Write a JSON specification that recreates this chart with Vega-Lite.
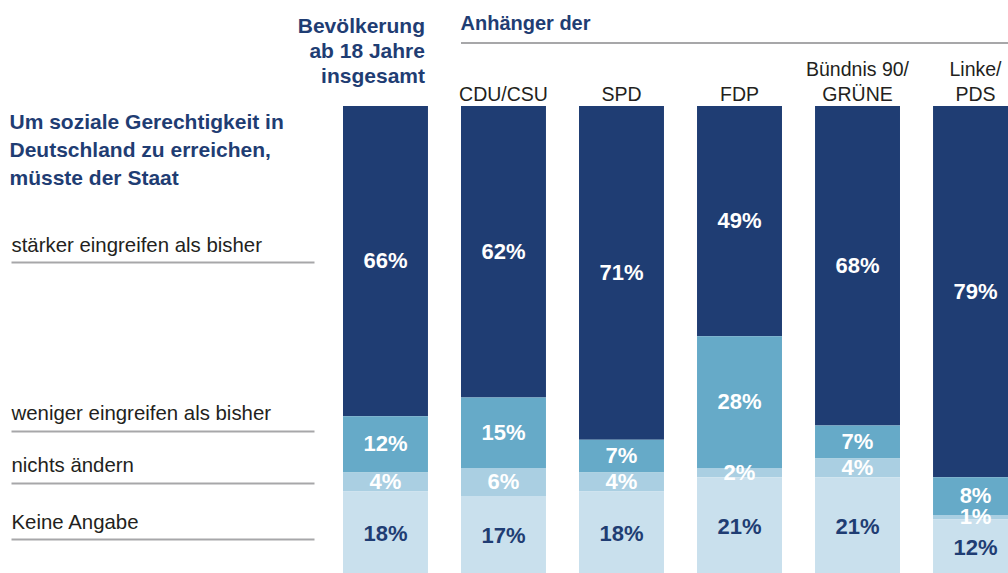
{
  "$schema": "https://vega.github.io/schema/vega-lite/v6.json",
  "autosize": {"type": "none"},
  "padding": {"left": 343, "top": 106, "right": 0, "bottom": 0},
  "width": 665,
  "height": 467,
  "background": "white",
  "config": {"view": {"stroke": null}},
  "data": {
    "values": [
      {"group": "Bevölkerung ab 18 Jahre insgesamt", "answer": "stärker eingreifen als bisher", "value": 0.66},
      {"group": "Bevölkerung ab 18 Jahre insgesamt", "answer": "weniger eingreifen als bisher", "value": 0.12},
      {"group": "Bevölkerung ab 18 Jahre insgesamt", "answer": "nichts ändern", "value": 0.04},
      {"group": "Bevölkerung ab 18 Jahre insgesamt", "answer": "Keine Angabe", "value": 0.18},
      {"group": "CDU/CSU", "answer": "stärker eingreifen als bisher", "value": 0.62},
      {"group": "CDU/CSU", "answer": "weniger eingreifen als bisher", "value": 0.15},
      {"group": "CDU/CSU", "answer": "nichts ändern", "value": 0.06},
      {"group": "CDU/CSU", "answer": "Keine Angabe", "value": 0.17},
      {"group": "SPD", "answer": "stärker eingreifen als bisher", "value": 0.71},
      {"group": "SPD", "answer": "weniger eingreifen als bisher", "value": 0.07},
      {"group": "SPD", "answer": "nichts ändern", "value": 0.04},
      {"group": "SPD", "answer": "Keine Angabe", "value": 0.18},
      {"group": "FDP", "answer": "stärker eingreifen als bisher", "value": 0.49},
      {"group": "FDP", "answer": "weniger eingreifen als bisher", "value": 0.28},
      {"group": "FDP", "answer": "nichts ändern", "value": 0.02},
      {"group": "FDP", "answer": "Keine Angabe", "value": 0.21},
      {"group": "Bündnis 90/ GRÜNE", "answer": "stärker eingreifen als bisher", "value": 0.68},
      {"group": "Bündnis 90/ GRÜNE", "answer": "weniger eingreifen als bisher", "value": 0.07},
      {"group": "Bündnis 90/ GRÜNE", "answer": "nichts ändern", "value": 0.04},
      {"group": "Bündnis 90/ GRÜNE", "answer": "Keine Angabe", "value": 0.21},
      {"group": "Linke/ PDS", "answer": "stärker eingreifen als bisher", "value": 0.79},
      {"group": "Linke/ PDS", "answer": "weniger eingreifen als bisher", "value": 0.08},
      {"group": "Linke/ PDS", "answer": "nichts ändern", "value": 0.01},
      {"group": "Linke/ PDS", "answer": "Keine Angabe", "value": 0.12}
    ]
  },
  "transform": [
    {"calculate": "indexof(['Keine Angabe', 'nichts ändern', 'weniger eingreifen als bisher', 'stärker eingreifen als bisher'], datum.answer)", "as": "stackOrder"}
  ],
  "resolve": {"scale": {"color": "independent"}},
  "layer": [
    {
      "mark": {"type": "bar"},
      "encoding": {
        "x": {
          "field": "group", "type": "nominal", "sort": null,
          "scale": {"type": "band", "range": [0, 675], "paddingInner": 0.28, "paddingOuter": 0},
          "axis": {
            "orient": "top", "domain": false, "ticks": false, "labelAngle": 0,
            "labelOverlap": false, "labelBound": false, "labelLimit": 400,
            "labelExpr": "datum.value == 'Bevölkerung ab 18 Jahre insgesamt' ? ['Bevölkerung', 'ab 18 Jahre', 'insgesamt'] : (indexof(datum.value, '/ ') > 0 ? [split(datum.value, '/ ')[0] + '/', split(datum.value, '/ ')[1]] : ['', datum.value])",
            "labelBaseline": "alphabetic",
            "labelLineHeight": 25,
            "labelAlign": {"condition": {"test": "datum.value == 'Bevölkerung ab 18 Jahre insgesamt'", "value": "right"}, "value": "center"},
            "labelOffset": {"condition": {"test": "datum.value == 'Bevölkerung ab 18 Jahre insgesamt'", "value": 39.5}, "value": 0},
            "labelPadding": {"condition": {"test": "datum.value == 'Bevölkerung ab 18 Jahre insgesamt'", "value": 74}, "value": 31},
            "labelFont": "Liberation Sans",
            "labelFontWeight": {"condition": {"test": "datum.value == 'Bevölkerung ab 18 Jahre insgesamt'", "value": "bold"}, "value": "normal"},
            "labelFontSize": {"condition": {"test": "datum.value == 'Bevölkerung ab 18 Jahre insgesamt'", "value": 21}, "value": 19.5},
            "labelColor": {"condition": {"test": "datum.value == 'Bevölkerung ab 18 Jahre insgesamt'", "value": "#1f3d73"}, "value": "#231f20"},
            "title": "Anhänger der",
            "titleX": 117, "titleY": -77, "titleAlign": "left", "titleAnchor": "start", "titleBaseline": "alphabetic",
            "titleFont": "Liberation Sans", "titleFontSize": 20, "titleFontWeight": "bold", "titleColor": "#1f3d73"
          }
        },
        "y": {
          "field": "value", "type": "quantitative", "stack": "zero",
          "scale": {"domain": [0, 1], "range": [470, 0], "nice": false},
          "axis": {
            "orient": "left", "offset": 29, "values": [0.6674, 0.3091, 0.1985, 0.0787],
            "domain": false, "grid": false, "ticks": true, "tickSize": 303, "tickColor": "#a7a7a9", "tickWidth": 2,
            "labelExpr": "datum.value > 0.5 ? 'stärker eingreifen als bisher' : datum.value > 0.25 ? 'weniger eingreifen als bisher' : datum.value > 0.15 ? 'nichts ändern' : 'Keine Angabe'",
            "labelAlign": "left", "labelBaseline": "alphabetic", "labelPadding": 0, "labelOffset": -11,
            "labelFont": "Liberation Sans", "labelFontSize": 20.4, "labelColor": "#231f20", "labelLimit": 400, "labelOverlap": false, "labelBound": false,
            "title": ["Um soziale Gerechtigkeit in", "Deutschland zu erreichen,", "müsste der Staat"],
            "titleAngle": 0, "titleAlign": "left", "titleAnchor": "start", "titleBaseline": "alphabetic", "titleX": -305, "titleY": 22,
            "titleFont": "Liberation Sans", "titleFontWeight": "bold", "titleFontSize": 21, "titleColor": "#1f3d73", "titleLineHeight": 28.3
          }
        },
        "order": {"field": "stackOrder", "type": "quantitative", "sort": "ascending"},
        "color": {
          "field": "answer", "type": "nominal",
          "scale": {
            "domain": ["stärker eingreifen als bisher", "weniger eingreifen als bisher", "nichts ändern", "Keine Angabe"],
            "range": ["#1f3d73", "#66aac8", "#aacfe2", "#c9e0ed"]
          },
          "legend": null
        }
      }
    },
    {
      "mark": {"type": "text", "font": "Liberation Sans", "fontSize": 22, "fontWeight": "bold", "baseline": "middle", "align": "center"},
      "encoding": {
        "x": {"field": "group", "type": "nominal", "sort": null},
        "y": {"field": "value", "type": "quantitative", "stack": "zero", "bandPosition": 0.5},
        "yOffset": {"condition": {"test": "datum.answer == 'stärker eingreifen als bisher'", "value": -8}, "value": 0},
        "order": {"field": "stackOrder", "type": "quantitative", "sort": "ascending"},
        "text": {"field": "value", "type": "quantitative", "format": ".0%"},
        "color": {
          "field": "answer", "type": "nominal",
          "scale": {
            "domain": ["stärker eingreifen als bisher", "weniger eingreifen als bisher", "nichts ändern", "Keine Angabe"],
            "range": ["#ffffff", "#ffffff", "#ffffff", "#1f3d73"]
          },
          "legend": null
        }
      }
    },
    {
      "mark": {"type": "rule", "color": "#a7a7a9", "strokeWidth": 2},
      "encoding": {
        "x": {"datum": "CDU/CSU", "type": "nominal", "bandPosition": 0},
        "x2": {"datum": "Linke/ PDS", "bandPosition": 1},
        "y": {"datum": 1.134, "type": "quantitative"}
      }
    }
  ]
}
